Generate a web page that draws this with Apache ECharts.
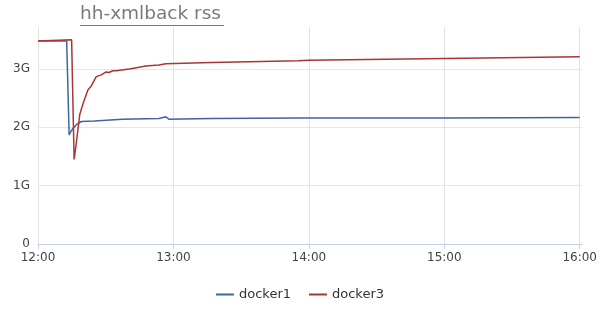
<!DOCTYPE html>
<html><head><meta charset="utf-8">
<script src="https://cdn.jsdelivr.net/npm/echarts@6/dist/echarts.min.js"></script>
<style>html,body{margin:0;padding:0;background:#fff}#c{width:600px;height:309px}</style>
</head><body><div id="c"></div>
<script>
// minutes after 12:00, values in G
const d1Minutes = [0, 12.7, 13.8, 14.9, 17.1, 19.2, 25, 37.4, 53.6, 56.6, 58.0, 77, 115, 120, 180, 240];
const d1Values  = [3.48, 3.48, 1.87, 1.95, 2.05, 2.10, 2.11, 2.14, 2.15, 2.18, 2.14, 2.15, 2.16, 2.16, 2.16, 2.17];
const d3Minutes = [0, 14.9, 16.0, 17.0, 18.5, 19.9, 22.1, 23.6, 25.8, 28.0, 30.2, 31.5, 33.1, 34.6, 40.4, 41.8, 47.8, 53.6, 56.6, 76.9, 115.2, 120, 180, 240];
const d3Values  = [3.48, 3.50, 1.45, 1.74, 2.22, 2.40, 2.64, 2.71, 2.87, 2.90, 2.95, 2.94, 2.97, 2.97, 3.00, 3.01, 3.05, 3.07, 3.09, 3.11, 3.14, 3.15, 3.18, 3.21];
const seriesNames = ['docker1', 'docker3'];
const yTicks = [0, 1, 2, 3];

const base = Date.UTC(2020, 0, 1, 12, 0, 0);
const toPts = (m, v) => m.map((x, i) => [base + x * 60000, v[i]]);

const chart = echarts.init(document.getElementById('c'));
chart.setOption({
  animation: false,
  useUTC: true,
  textStyle: { fontFamily: 'DejaVu Sans' },
  title: {
    text: 'hh-xmlback rss', left: 80, top: 5, padding: 0,
    textStyle: { fontSize: 18.5, fontWeight: 'normal', color: '#7a7a7a', fontFamily: 'DejaVu Sans' }
  },
  graphic: [{ type: 'line', shape: { x1: 80, y1: 25.5, x2: 224, y2: 25.5 }, style: { stroke: '#7a7a7a', lineWidth: 1.2 } }],
  legend: {
    bottom: 3, left: 'center', itemWidth: 18, itemHeight: 2, itemGap: 18,
    icon: 'rect',
    textStyle: { fontSize: 13, color: '#333' },
    data: seriesNames
  },
  grid: { left: 38, right: 13, top: 27, bottom: 65 },
  xAxis: {
    type: 'time',
    min: base, max: base + 241 * 60000,
    interval: 3600000,
    axisLine: { lineStyle: { color: '#c3d1e6' } },
    axisTick: { lineStyle: { color: '#c3d1e6' }, length: 5 },
    axisLabel: {
      color: '#444', fontSize: 12,
      formatter: v => { const d = new Date(v); return String(d.getUTCHours()).padStart(2, '0') + ':' + String(d.getUTCMinutes()).padStart(2, '0'); }
    },
    splitLine: { show: true, showMaxLine: false, lineStyle: { color: '#e3e3e3' } }
  },
  yAxis: {
    type: 'value', min: 0, max: 3.72, interval: 1,
    axisLine: { show: false }, axisTick: { show: false },
    axisLabel: { color: '#444', fontSize: 12, formatter: v => yTicks.includes(v) ? (v === 0 ? '0' : v + 'G') : '' },
    splitLine: { showMaxLine: false, lineStyle: { color: '#e6e6e6' } }
  },
  series: [
    { name: seriesNames[0], type: 'line', showSymbol: false, data: toPts(d1Minutes, d1Values),
      lineStyle: { width: 1.5, color: '#3f63a6' }, itemStyle: { color: '#3f63a6' } },
    { name: seriesNames[1], type: 'line', showSymbol: false, data: toPts(d3Minutes, d3Values),
      lineStyle: { width: 1.5, color: '#a93634' }, itemStyle: { color: '#a93634' } }
  ]
});
</script></body></html>
